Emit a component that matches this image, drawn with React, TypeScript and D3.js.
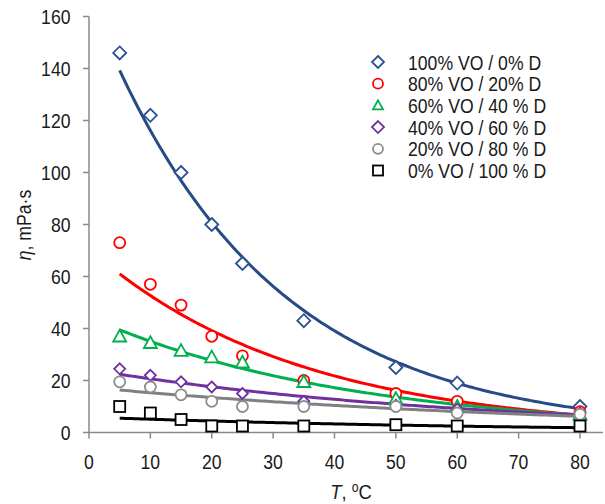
import React from 'react';
import * as d3 from 'd3';

// temperatures, °C
const temps = [5, 10, 15, 20, 25, 35, 50, 60, 80];

// viscosity, mPa·s
const vo100 = [146, 122, 100, 80, 65, 43, 25, 19, 10];
const vo80 = [73, 57, 49, 37, 29.5, 20, 15, 12, 8];
const vo60 = [37, 34.5, 31.5, 29, 27, 19.5, 13, 10, 7];
const vo40 = [24.5, 22, 19.5, 17.5, 15, 12, 10.5, 9, 7.5];
const vo20 = [19.5, 17.5, 14.5, 12, 10, 10, 10, 7.5, 7];
const vo0 = [10, 7.5, 5, 2.5, 2.5, 2.5, 3, 2.5, 2.5];

const seriesNames = [
  '100% VO / 0% D',
  '80% VO / 20% D',
  '60% VO / 40 % D',
  '40% VO / 60 % D',
  '20% VO / 80 % D',
  '0% VO / 100 % D',
];
const xTicks = [0, 10, 20, 30, 40, 50, 60, 70, 80];
const yTicks = [0, 20, 40, 60, 80, 100, 120, 140, 160];

const series = [
  { name: seriesNames[0], values: vo100, marker: 'diamond', mark: '#2a5490', line: '#264b85', size: 6.5 },
  { name: seriesNames[1], values: vo80, marker: 'circle', mark: '#ff0000', line: '#ff0000', size: 5.5 },
  { name: seriesNames[2], values: vo60, marker: 'triangle', mark: '#00b050', line: '#00b050', size: 6.5 },
  { name: seriesNames[3], values: vo40, marker: 'diamond', mark: '#7030a0', line: '#7030a0', size: 5.5 },
  { name: seriesNames[4], values: vo20, marker: 'circle', mark: '#8c8c8c', line: '#808080', size: 5.5 },
  { name: seriesNames[5], values: vo0, marker: 'square', mark: '#000000', line: '#000000', size: 5.5 },
];

// Excel-style exponential trendline: least squares on ln(y)
function expFit(xs: number[], ys: number[]) {
  const ly = ys.map(Math.log);
  const mx = d3.mean(xs)!;
  const my = d3.mean(ly)!;
  const sxy = d3.sum(xs, (x, i) => (x - mx) * (ly[i] - my));
  const sxx = d3.sum(xs, (x) => (x - mx) * (x - mx));
  const b = sxy / sxx;
  const a = my - b * mx;
  return (x: number) => Math.exp(a + b * x);
}

const FONT = '"Liberation Sans", Arial, sans-serif';
const INK = '#1a1a1a';

// narrow-looking text: the original uses a condensed sans
function NText({ x, y, sx = 0.85, size, anchor = 'start', dy, children }: any) {
  return (
    <text
      transform={`translate(${x},${y}) scale(${sx},1)`}
      textAnchor={anchor}
      dy={dy}
      fontFamily={FONT}
      fontSize={size}
      fill={INK}
    >
      {children}
    </text>
  );
}

function Marker({ type, x, y, s, color }: { type: string; x: number; y: number; s: number; color: string }) {
  const common = { fill: 'white', stroke: color, strokeWidth: 1.8 };
  if (type === 'circle') return <circle cx={x} cy={y} r={s} {...common} />;
  if (type === 'square') return <rect x={x - s} y={y - s} width={s * 2} height={s * 2} {...common} />;
  if (type === 'triangle')
    return <path d={`M${x},${y - s}L${x + s},${y + s * 0.8}L${x - s},${y + s * 0.8}Z`} {...common} />;
  return <path d={`M${x},${y - s}L${x + s},${y}L${x},${y + s}L${x - s},${y}Z`} {...common} />;
}

export default function App() {
  const width = 605;
  const height = 504;
  const x = d3.scaleLinear().domain([0, 80]).range([89, 580]);
  const y = d3.scaleLinear().domain([0, 160]).range([432.5, 16.5]);
  const axisColor = '#8a8a8a';

  const fitXs = d3.range(5, 80.01, 0.5);
  const line = d3
    .line<number[]>()
    .x((d) => x(d[0]))
    .y((d) => y(d[1]));

  return (
    <svg width={width} height={height} style={{ position: 'absolute', left: 0, top: 0, background: 'white' }}>
      {/* axes */}
      <line x1={x(0)} x2={x(0)} y1={y(0)} y2={y(160)} stroke={axisColor} strokeWidth={1.5} />
      <line x1={x(0)} x2={603} y1={y(0)} y2={y(0)} stroke={axisColor} strokeWidth={1.5} />
      {yTicks.map((t) => (
        <g key={'y' + t}>
          <line x1={x(0) - 6} x2={x(0)} y1={y(t)} y2={y(t)} stroke={axisColor} strokeWidth={1.5} />
          <NText x={70.5} y={y(t)} dy="0.36em" anchor="end" size={21} sx={0.84}>
            {t}
          </NText>
        </g>
      ))}
      {xTicks.map((t) => (
        <g key={'x' + t}>
          <line x1={x(t)} x2={x(t)} y1={y(0)} y2={y(0) + 6} stroke={axisColor} strokeWidth={1.5} />
          <NText x={x(t)} y={468.5} anchor="middle" size={21} sx={0.84}>
            {t}
          </NText>
        </g>
      ))}

      {/* axis titles */}
      <NText x={351} y={499} anchor="middle" size={21} sx={0.88}>
        <tspan fontStyle="italic">T</tspan>
        <tspan>, </tspan>
        <tspan fontSize={14} dy={-7}>o</tspan>
        <tspan dy={7}>C</tspan>
      </NText>
      <text
        transform="translate(31,225) rotate(-90) scale(0.88,1)"
        textAnchor="middle"
        fontFamily={FONT}
        fontSize={20}
        fill={INK}
      >
        <tspan fontStyle="italic">η</tspan>
        <tspan>, mPa·s</tspan>
      </text>

      {/* trendlines */}
      {series.map((s) => {
        const f = expFit(temps, s.values);
        return (
          <path
            key={'l' + s.name}
            d={line(fitXs.map((t) => [t, f(t)]))!}
            fill="none"
            stroke={s.line}
            strokeWidth={3}
          />
        );
      })}

      {/* points */}
      {series.map((s) => (
        <g key={'p' + s.name}>
          {s.values.map((v, i) => (
            <Marker key={i} type={s.marker} x={x(temps[i])} y={y(v)} s={s.size} color={s.mark} />
          ))}
        </g>
      ))}

      {/* legend */}
      {series.map((s, i) => {
        const ly = 62 + i * 21.7;
        return (
          <g key={'g' + s.name}>
            <Marker type={s.marker} x={378} y={ly} s={s.marker === 'diamond' ? 6 : 5} color={s.mark} />
            <NText x={408} y={ly} dy="0.36em" size={21} sx={0.84}>
              {s.name}
            </NText>
          </g>
        );
      })}
    </svg>
  );
}
